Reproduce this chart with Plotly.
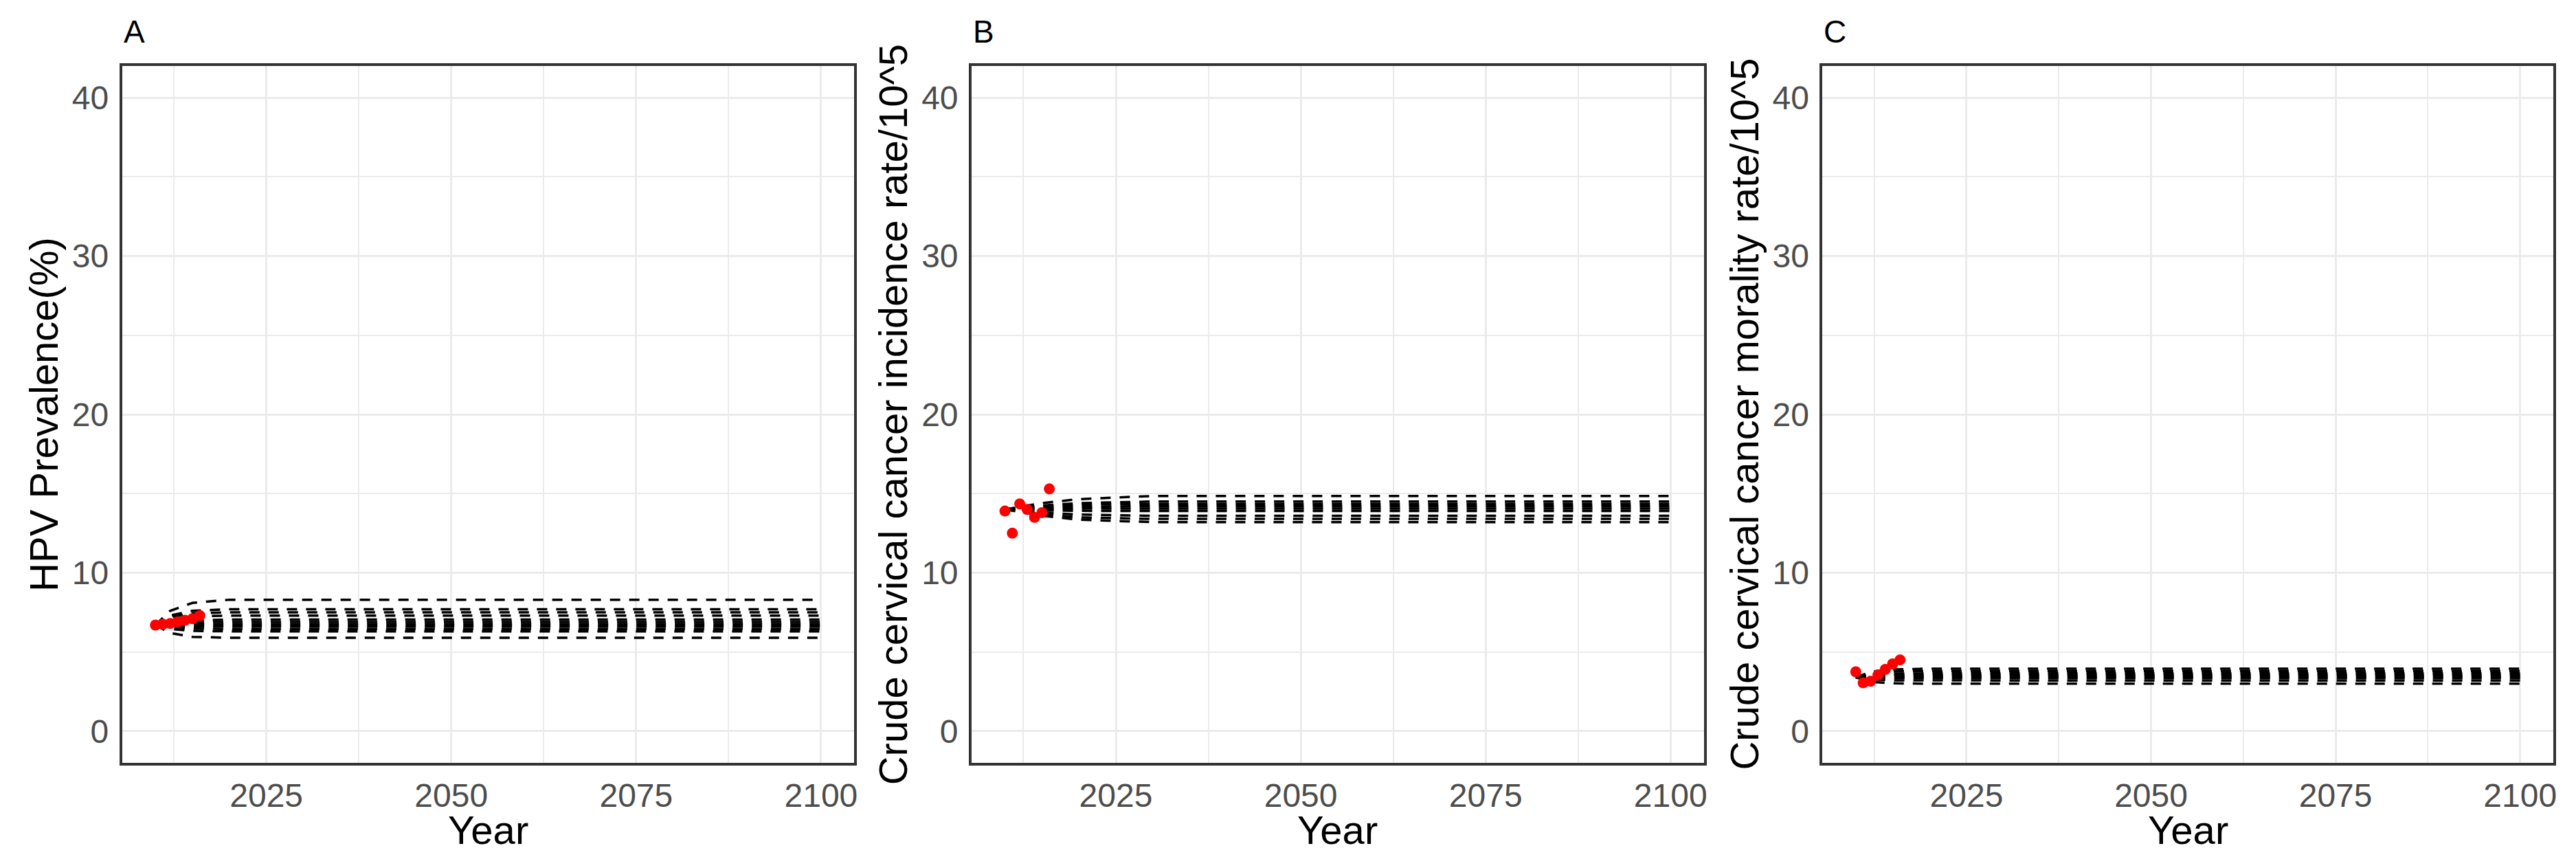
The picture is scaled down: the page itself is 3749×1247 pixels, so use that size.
import plotly.graph_objects as go

# ---------------- data ----------------
obs_years = [2010, 2011, 2012, 2013, 2014, 2015, 2016]
hpv_obs = [6.7, 6.75, 6.8, 6.9, 7.0, 7.1, 7.3]
inc_obs = [13.9, 12.5, 14.35, 14.0, 13.5, 13.8, 15.3]
mort_obs = [3.75, 3.05, 3.15, 3.55, 3.9, 4.25, 4.5]

sim_years = [2010, 2012, 2015, 2020, 2030, 2100]
hpv_sim = [
    [6.7, 7.6, 8.1, 8.3, 8.3, 8.3],
    [6.7, 7.3, 7.6, 7.7, 7.7, 7.7],
    [6.7, 7.2, 7.45, 7.5, 7.5, 7.5],
    [6.7, 7.05, 7.25, 7.3, 7.3, 7.3],
    [6.7, 6.9, 7.0, 7.05, 7.05, 7.05],
    [6.7, 6.8, 6.88, 6.9, 6.9, 6.9],
    [6.7, 6.72, 6.75, 6.75, 6.75, 6.75],
    [6.7, 6.64, 6.6, 6.6, 6.6, 6.6],
    [6.7, 6.55, 6.47, 6.45, 6.45, 6.45],
    [6.7, 6.45, 6.33, 6.3, 6.3, 6.3],
    [6.7, 6.2, 5.95, 5.9, 5.9, 5.9],
]
inc_sim = [
    [14.0, 14.15, 14.4, 14.65, 14.85, 14.85],
    [14.0, 14.1, 14.25, 14.4, 14.5, 14.5],
    [14.0, 14.08, 14.18, 14.3, 14.35, 14.35],
    [14.0, 14.05, 14.1, 14.17, 14.2, 14.2],
    [14.0, 14.02, 14.03, 14.05, 14.05, 14.05],
    [14.0, 13.97, 13.94, 13.91, 13.9, 13.9],
    [14.0, 13.92, 13.8, 13.68, 13.6, 13.6],
    [14.0, 13.88, 13.7, 13.5, 13.4, 13.4],
    [14.0, 13.85, 13.6, 13.35, 13.2, 13.2],
]
mort_sim = [
    [3.4, 3.75, 3.9, 3.95, 3.95, 3.95],
    [3.4, 3.65, 3.77, 3.8, 3.8, 3.8],
    [3.4, 3.55, 3.63, 3.65, 3.65, 3.65],
    [3.4, 3.5, 3.54, 3.55, 3.55, 3.55],
    [3.4, 3.43, 3.45, 3.45, 3.45, 3.45],
    [3.4, 3.37, 3.35, 3.35, 3.35, 3.35],
    [3.4, 3.27, 3.21, 3.2, 3.2, 3.2],
    [3.4, 3.12, 3.02, 3.0, 3.0, 3.0],
]

panel_tags = ["A", "B", "C"]
y_titles = ["HPV Prevalence(%)",
            "Crude cervical cancer incidence rate/10^5",
            "Crude cervical cancer morality rate/10^5"]
x_title = "Year"
x_ticks = [2025, 2050, 2075, 2100]
y_ticks = [0, 10, 20, 30, 40]

# ---------------- layout geometry ----------------
W, H = 3749, 1247
x_px = [(170, 1237), (1408, 2475), (2648, 3713)]
y_top, y_bot = 88, 1102
ydom = [1 - y_bot / H, 1 - y_top / H]

fig = go.Figure()
sims = [hpv_sim, inc_sim, mort_sim]
obss = [hpv_obs, inc_obs, mort_obs]

for i in range(3):
    ax = "" if i == 0 else str(i + 1)
    for line in sims[i]:
        fig.add_trace(go.Scatter(
            x=sim_years, y=line, mode="lines",
            line=dict(color="black", width=3.5, dash="15px,13px"),
            xaxis="x" + ax, yaxis="y" + ax, showlegend=False, hoverinfo="skip"))
    fig.add_trace(go.Scatter(
        x=obs_years, y=obss[i], mode="markers",
        marker=dict(color="#FF0000", size=16, line=dict(width=0)),
        xaxis="x" + ax, yaxis="y" + ax, showlegend=False))

axis_common = dict(
    showline=True, linecolor="#333333", linewidth=4, mirror=True,
    showgrid=True, gridcolor="#EBEBEB", gridwidth=2.5, zeroline=False,
    ticks="", tickfont=dict(family="Liberation Sans", size=48, color="#4D4D4D"),
)

for i in range(3):
    sfx = "" if i == 0 else str(i + 1)
    x0, x1 = x_px[i]
    fig.layout["xaxis" + sfx] = dict(
        axis_common, domain=[x0 / W, x1 / W], range=[2005.5, 2104.5],
        tickvals=x_ticks, anchor="y" + sfx, ticklabelstandoff=2,
        minor=dict(dtick=12.5, tick0=2000, showgrid=True, gridcolor="#EBEBEB", gridwidth=2),
    )
    fig.layout["yaxis" + sfx] = dict(
        axis_common, domain=ydom, range=[-2, 42],
        tickvals=y_ticks, anchor="x" + sfx,
        minor=dict(dtick=5, tick0=0, showgrid=True, gridcolor="#EBEBEB", gridwidth=2),
        ticklabelstandoff=6,
    )

annotations = []
for i in range(3):
    x0, x1 = x_px[i]
    annotations.append(dict(
        text=panel_tags[i], x=x0 / W, y=1 - 38 / H, xref="paper", yref="paper",
        xanchor="left", yanchor="middle", showarrow=False,
        font=dict(family="Liberation Sans", size=46, color="black")))
    annotations.append(dict(
        text=x_title, x=(x0 + x1) / 2 / W, y=1 - 1199 / H, xref="paper", yref="paper",
        xanchor="center", yanchor="middle", showarrow=False,
        font=dict(family="Liberation Sans", size=58, color="black")))
    annotations.append(dict(
        text=y_titles[i], x=(x0 - 114) / W, y=(ydom[0] + ydom[1]) / 2,
        xref="paper", yref="paper", xanchor="center", yanchor="middle",
        textangle=-90, showarrow=False,
        font=dict(family="Liberation Sans", size=58, color="black")))

fig.update_layout(
    width=W, height=H, margin=dict(l=0, r=0, t=0, b=0),
    paper_bgcolor="white", plot_bgcolor="white",
    annotations=annotations, showlegend=False,
)

fig.write_html("out.html")
